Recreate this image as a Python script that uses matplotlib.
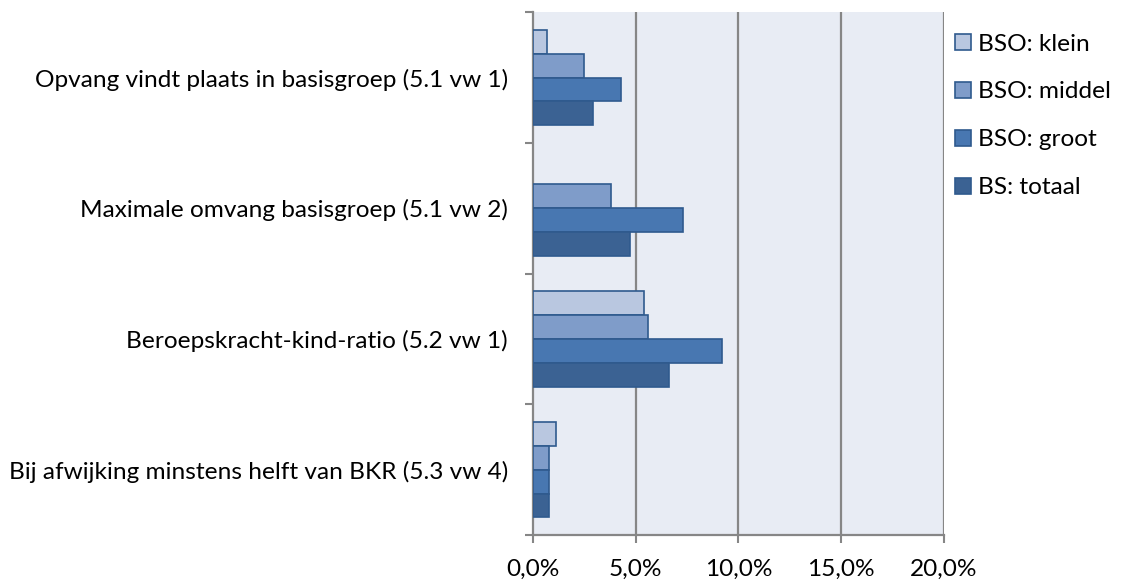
import matplotlib
matplotlib.use("Agg")
import matplotlib.pyplot as plt
import numpy as np
from matplotlib.patches import Patch

categories = ["Opvang vindt plaats in basisgroep (5.1 vw 1)",
              "Maximale omvang basisgroep (5.1 vw 2)",
              "Beroepskracht-kind-ratio (5.2 vw 1)",
              "Bij afwijking minstens helft van BKR (5.3 vw 4)"]
series_names = ["BSO: klein", "BSO: middel", "BSO: groot", "BS: totaal"]
bso_klein = [0.7, 0.0, 5.4, 1.1]
bso_middel = [2.5, 3.8, 5.6, 0.8]
bso_groot = [4.3, 7.3, 9.2, 0.8]
bs_totaal = [2.9, 4.7, 6.6, 0.8]
xticks = [0, 5, 10, 15, 20]
xticklabels = ["0,0%", "5,0%", "10,0%", "15,0%", "20,0%"]

colors = ["#B9C7E0", "#7F9CC9", "#4877B1", "#3B6293"]
edge = "#2F5A8E"
grid = "#868686"

plt.rcParams['font.family'] = ['Lato', 'DejaVu Sans']
fs = 17.6

fig = plt.figure(figsize=(11.25, 5.8), dpi=100)
ax = fig.add_axes([0.4738, 0.0776, 0.839 - 0.4738, 0.979 - 0.0776])
ax.set_facecolor("#E8ECF4")

data = [bso_klein, bso_middel, bso_groot, bs_totaal]
n = len(categories)
y = np.arange(n)
h = 0.183
for i, (vals, c) in enumerate(zip(data, colors)):
    lws = [0 if v == 0 else 1.2 for v in vals]
    ax.barh(y + (i - 1.5) * h, vals, height=h, color=c, edgecolor=edge,
            linewidth=lws, zorder=3)

ax.set_ylim(n - 0.5, -0.5)
ax.set_xlim(0, 20)
ax.set_xticks(xticks)
ax.set_xticklabels(xticklabels, fontsize=fs)
ax.set_yticks(y)
ax.set_yticklabels(categories, fontsize=fs)
ax.tick_params(axis='y', which='major', length=0, pad=18)
ax.set_yticks(np.arange(-0.5, n, 1.0), minor=True)
ax.tick_params(axis='y', which='minor', length=6, width=1.5, color=grid)
ax.tick_params(axis='x', length=6, width=1.5, color=grid, pad=11)

for xv in xticks[1:]:
    ax.axvline(xv, color=grid, linewidth=1.6, zorder=1)

for s in ["top", "right"]:
    ax.spines[s].set_visible(False)
for s in ["left", "bottom"]:
    ax.spines[s].set_color(grid)
    ax.spines[s].set_linewidth(1.6)

handles = [Patch(facecolor=c, edgecolor=edge, linewidth=1.2, label=nm)
           for c, nm in zip(colors, series_names)]
fig.legend(handles=handles, loc="upper left", bbox_to_anchor=(0.829, 0.98),
           frameon=False, fontsize=fs, handlelength=0.65, handleheight=0.65,
           handletextpad=0.3, labelspacing=1.1)

fig.savefig("out.png", dpi=100)
